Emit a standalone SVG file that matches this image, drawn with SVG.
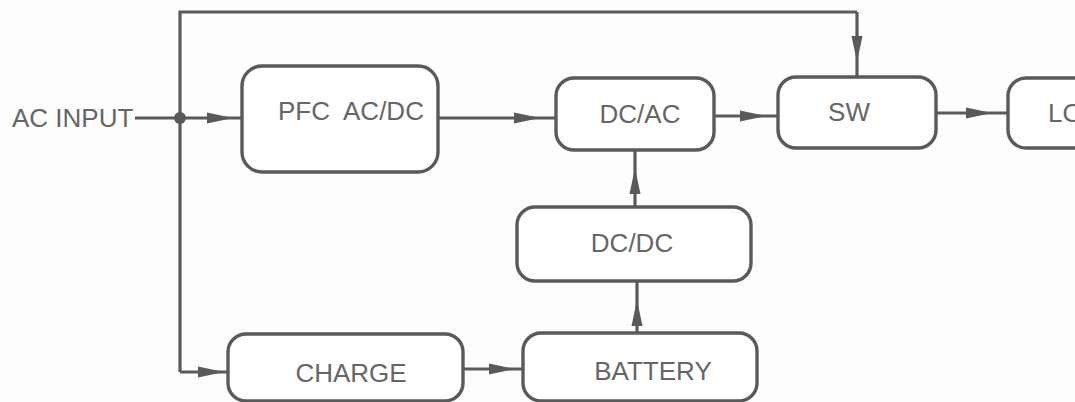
<svg xmlns="http://www.w3.org/2000/svg" width="1075" height="402" viewBox="0 0 1075 402">
<style>
.box{fill:#fff;stroke:#5a5a5a;stroke-width:3.4}
.lbl{font-family:"Liberation Sans",Arial,sans-serif;font-size:26px;fill:#666}
.c{text-anchor:middle}
.wire{fill:none;stroke:#5a5a5a;stroke-width:3.2}
.arr{marker-mid:url(#ah)}
</style>
<defs>
<marker id="ah" viewBox="0 0 26 12" refX="26" refY="6" markerWidth="26" markerHeight="12" markerUnits="userSpaceOnUse" orient="auto">
<path d="M0,0.5 L26,6 L0,11.5 z" fill="#5a5a5a"/>
</marker>
</defs>
<rect width="1075" height="402" fill="#fdfdfd"/>
<g id="connectors">
<path class="wire" d="M135,118 H180"/>
<path class="wire arr" d="M180,118 H233 H242"/>
<path class="wire" d="M180,118 V12 H857"/>
<path class="wire arr" d="M857,12 V62 V77"/>
<path class="wire" d="M180,118 V372"/>
<path class="wire arr" d="M180,372 H224 H228"/>
<path class="wire arr" d="M438,118 H540 H556"/>
<path class="wire arr" d="M714,116 H766 H778"/>
<path class="wire arr" d="M936,113 H992 H1008"/>
<path class="wire arr" d="M463,369 H515 H523"/>
<path class="wire arr" d="M637,333 V300 V281"/>
<path class="wire arr" d="M635,207 V168 V150"/>
<circle cx="180" cy="118" r="6" fill="#5a5a5a"/>
</g>
<g id="ac-input">
<text class="lbl" x="12" y="127">AC INPUT</text>
</g>
<g id="pfc">
<rect class="box" x="242" y="66" width="196" height="106" rx="20"/>
<text class="lbl" x="278" y="120" style="white-space:pre">PFC  AC/DC</text>
</g>
<g id="dcac">
<rect class="box" x="556" y="78" width="158" height="72" rx="18"/>
<text class="lbl c" x="640" y="123">DC/AC</text>
</g>
<g id="sw">
<rect class="box" x="778" y="77" width="158" height="71" rx="18"/>
<text class="lbl c" x="849" y="121">SW</text>
</g>
<g id="load">
<rect class="box" x="1008" y="78" width="158" height="70" rx="18"/>
<text class="lbl" x="1048" y="122">LOAD</text>
</g>
<g id="dcdc">
<rect class="box" x="517" y="207" width="234" height="74" rx="18"/>
<text class="lbl c" x="632" y="252">DC/DC</text>
</g>
<g id="charge">
<rect class="box" x="228" y="334" width="235" height="67" rx="18"/>
<text class="lbl c" x="351" y="382">CHARGE</text>
</g>
<g id="battery">
<rect class="box" x="523" y="333" width="234" height="68" rx="18"/>
<text class="lbl c" x="653" y="380">BATTERY</text>
</g>
</svg>
